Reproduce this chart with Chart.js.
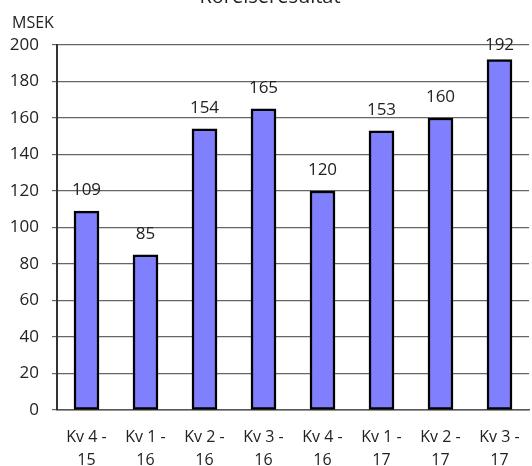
<!DOCTYPE html>
<html>
<head>
<meta charset="utf-8">
<script src="https://cdn.jsdelivr.net/npm/chart.js@4"></script>
<style>
  body { margin: 0; background: #fff; }
  #wrap { width: 532px; height: 466px; }
</style>
</head>
<body>
<div id="wrap"><canvas id="chart" width="532" height="466"></canvas></div>
<script>
const categories = [['Kv 4 -', '15'], ['Kv 1 -', '16'], ['Kv 2 -', '16'], ['Kv 3 -', '16'],
                    ['Kv 4 -', '16'], ['Kv 1 -', '17'], ['Kv 2 -', '17'], ['Kv 3 -', '17']];
const rorelseresultat = [109, 85, 154, 165, 120, 153, 160, 192];
const yTicks = [0, 20, 40, 60, 80, 100, 120, 140, 160, 180, 200];

const FONT = '"Open Sans", "Noto Sans", sans-serif';

// etiketter ovanför staplarna + titel och enhet
const labelPlugin = {
    id: 'labels',
    afterDatasetsDraw(chart) {
        const ctx = chart.ctx;
        ctx.save();
        ctx.fillStyle = '#222';
        ctx.font = '17px ' + FONT;
        ctx.textAlign = 'center';
        ctx.textBaseline = 'middle';
        const meta = chart.getDatasetMeta(0);
        meta.data.forEach((bar, i) => {
            const y = Math.max(bar.y - 21, 45);
            ctx.fillText(String(rorelseresultat[i]), bar.x, y);
        });
        ctx.textBaseline = 'alphabetic';
        ctx.font = '20px ' + FONT;
        ctx.fillText('Rörelseresultat', 270, 3);
        ctx.textAlign = 'left';
        ctx.font = '16px ' + FONT;
        ctx.fillText('MSEK', 12, 28);
        ctx.restore();
    }
};

new Chart(document.getElementById('chart'), {
    type: 'bar',
    data: {
        labels: categories,
        datasets: [{
            data: rorelseresultat,
            backgroundColor: '#8080ff',
            borderColor: '#000',
            borderWidth: 2.5,
            borderSkipped: false,
            barThickness: 25
        }]
    },
    options: {
        responsive: false,
        animation: false,
        layout: { padding: { top: 45, right: 3, left: 0, bottom: 0 } },
        plugins: {
            legend: { display: false },
            tooltip: { enabled: false }
        },
        scales: {
            x: {
                grid: { display: false },
                border: { color: '#555', width: 1.5 },
                ticks: {
                    color: '#222',
                    padding: 8,
                    maxRotation: 0,
                    font: { family: FONT, size: 16, lineHeight: '23px' }
                },
                afterFit(scale) { scale.height = 56; }
            },
            y: {
                min: 0,
                max: 200,
                afterBuildTicks(scale) { scale.ticks = yTicks.map(v => ({ value: v })); },
                grid: { color: '#666', lineWidth: 1.2, tickLength: 5 },
                border: { color: '#333', width: 2 },
                ticks: {
                    color: '#222',
                    padding: 13,
                    font: { family: FONT, size: 17 }
                },
                afterFit(scale) { scale.width = 57; }
            }
        }
    },
    plugins: [labelPlugin]
});
</script>
</body>
</html>
